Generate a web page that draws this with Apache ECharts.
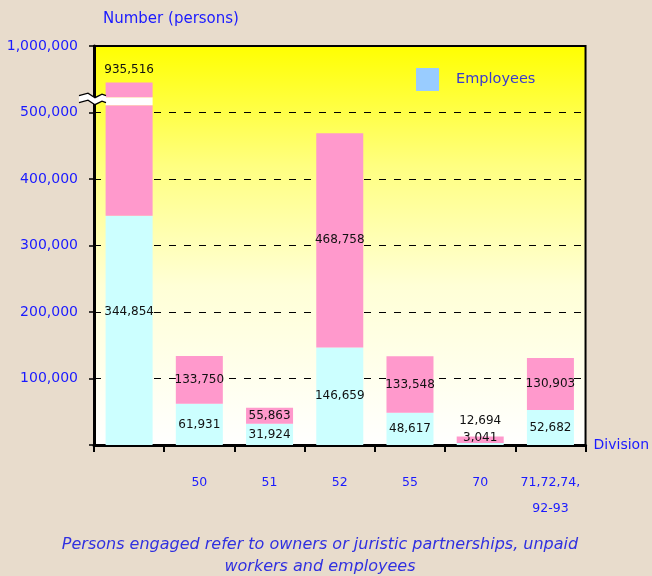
<!DOCTYPE html>
<html>
<head>
<meta charset="utf-8">
<title>Persons engaged by division</title>
<script src="https://cdn.jsdelivr.net/npm/echarts@6.0.0/dist/echarts.min.js"></script>
<style>
  html, body { margin: 0; padding: 0; background: #e8dccc; }
  #main { width: 652px; height: 576px; }
</style>
</head>
<body>
<div id="main"></div>
<script type="text/javascript">
// division codes (first bar = all divisions, no label)
var categories = ['', '50', '51', '52', '55', '70', '71,72,74,\n92-93'];
var employees  = [344854, 61931, 31924, 146659, 48617, 3041, 52682];
var personsEngaged = [935516, 133750, 55863, 468758, 133548, 12694, 130903];
var yTicks = [100000, 200000, 300000, 400000, 500000, 1000000];

var BLUE = '#1a1aff';
var FONT = 'DejaVu Sans';
var GRID_LEFT = 94;

// broken axis: 500k..900k squeezed, 900k..1M shown above the break
function toAxis(v) {
    if (v <= 500000) return v;
    if (v <= 900000) return 500000 + (v - 500000) * 0.0375;
    return 515000 + (v - 900000) * 0.85;
}
function fromAxis(a) {
    if (a <= 500000) return a;
    if (a <= 515000) return 500000 + (a - 500000) / 0.0375;
    return 900000 + (a - 515000) / 0.85;
}
function fmt(v) { return Math.round(v).toLocaleString('en-US'); }

// white band across the first bar, in axis units
var BAND = [511000, 523000];

var empData = employees.map(function (v, i) {
    var item = { value: v };
    if (i === 0) item.label = { offset: [0, -18] };
    if (i === 5) item.label = { offset: [0, -6] };
    return item;
});
var pinkLow = personsEngaged.map(function (v, i) {
    if (i === 0) return { value: BAND[0] - employees[0], label: { show: false } };
    var item = { value: v - employees[i] };
    if (i === 5) item.label = { position: 'top', distance: 10 };
    return item;
});
var gapData = personsEngaged.map(function (v, i) {
    return i === 0 ? BAND[1] - BAND[0] : '-';
});
var pinkHigh = personsEngaged.map(function (v, i) {
    return i === 0 ? toAxis(v) - BAND[1] : '-';
});

var myChart = echarts.init(document.getElementById('main'));

var labelStyle = { color: '#111', fontFamily: FONT, fontSize: 12 };

var option = {
    backgroundColor: '#e8dccc',
    animation: false,
    title: [
        {
            text: 'Number (persons)', left: 98, top: 7,
            textStyle: { color: BLUE, fontFamily: FONT, fontSize: 15, fontWeight: 'normal' }
        }
    ],
    legend: {
        left: 411, top: 63,
        itemWidth: 23, itemHeight: 23,
        icon: 'rect',
        selectedMode: false,
        data: [{ name: 'Employees', itemStyle: { color: '#99ccff' } }],
        textStyle: { color: '#3a3ad0', fontFamily: FONT, fontSize: 14.5, padding: [0, 0, 0, 12] }
    },
    grid: {
        left: GRID_LEFT, right: 66, top: 46, bottom: 131,
        show: true,
        borderColor: '#000', borderWidth: 2,
        backgroundColor: new echarts.graphic.LinearGradient(0, 0, 0, 1, [
            { offset: 0, color: '#ffff00' },
            { offset: 0.3, color: '#ffff80' },
            { offset: 0.6, color: '#ffffd6' },
            { offset: 1, color: '#ffffff' }
        ])
    },
    xAxis: {
        type: 'category',
        data: categories,
        name: 'Division',
        nameLocation: 'end',
        nameGap: 8,
        nameTextStyle: { color: BLUE, fontFamily: FONT, fontSize: 14, padding: [0, 0, 22, 0] },
        axisLine: { lineStyle: { color: '#000', width: 3 } },
        axisTick: { show: true, interval: 0, length: 7, lineStyle: { color: '#000', width: 2 } },
        axisLabel: { interval: 0, color: BLUE, fontFamily: FONT, fontSize: 12.5, margin: 25, lineHeight: 26 }
    },
    yAxis: {
        type: 'value',
        min: 0, max: 600000, interval: 100000,
        axisLine: { show: true, lineStyle: { color: '#000', width: 3 } },
        axisTick: { show: true, length: 5, lineStyle: { color: '#000', width: 1.5 } },
        axisLabel: {
            color: BLUE, fontFamily: FONT, fontSize: 14, margin: 16,
            formatter: function (a) {
                var v = fromAxis(a);
                return yTicks.indexOf(Math.round(v)) >= 0 ? fmt(v) : '';
            }
        },
        splitLine: {
            show: true, showMinLine: false, showMaxLine: false,
            lineStyle: { color: '#000', width: 1, type: [7, 8] }
        }
    },
    series: [
        {
            name: 'Employees', type: 'bar', stack: 'a',
            barWidth: 47,
            itemStyle: { color: '#ccffff' },
            label: {
                show: true, position: 'inside', ...labelStyle,
                formatter: function (p) { return fmt(employees[p.dataIndex]); }
            },
            data: empData
        },
        {
            name: 'Persons engaged', type: 'bar', stack: 'a',
            barWidth: 47,
            itemStyle: { color: '#ff99cc' },
            label: {
                show: true, position: 'inside', ...labelStyle,
                formatter: function (p) { return fmt(personsEngaged[p.dataIndex]); }
            },
            data: pinkLow
        },
        {
            name: 'break', type: 'bar', stack: 'a',
            barWidth: 47,
            itemStyle: { color: '#ffffff' },
            data: gapData
        },
        {
            name: 'Persons engaged top', type: 'bar', stack: 'a',
            barWidth: 47,
            itemStyle: { color: '#ff99cc' },
            label: {
                show: true, position: 'top', distance: 7, ...labelStyle,
                formatter: function (p) { return fmt(personsEngaged[p.dataIndex]); }
            },
            data: pinkHigh
        }
    ]
};

myChart.setOption(option);

// zigzag break mark on the y axis, and the footnote
var yTop = myChart.convertToPixel({ yAxisIndex: 0 }, BAND[1]);
var yBot = myChart.convertToPixel({ yAxisIndex: 0 }, BAND[0]);
var yMid = (yTop + yBot) / 2 - 2;
function zig(y) {
    return [[GRID_LEFT - 15, y], [GRID_LEFT - 6, y - 2.5], [GRID_LEFT + 1, y + 2], [GRID_LEFT + 8, y - 1.5], [GRID_LEFT + 12, y]];
}
var upper = zig(yMid - 3.5), lower = zig(yMid + 3.5);
myChart.setOption({
    graphic: [
        {
            type: 'polygon', z: 100,
            shape: { points: upper.concat(lower.slice().reverse()) },
            style: { fill: '#ffffff', stroke: null }
        },
        {
            type: 'polyline', z: 101,
            shape: { points: upper },
            style: { stroke: '#000', lineWidth: 1.3, fill: null }
        },
        {
            type: 'polyline', z: 101,
            shape: { points: lower },
            style: { stroke: '#000', lineWidth: 1.3, fill: null }
        },
        {
            type: 'text', x: 320, y: 534, z: 100,
            style: {
                text: 'Persons engaged refer to owners or juristic partnerships, unpaid\nworkers and employees',
                fill: '#3030e0', font: 'italic 16px "DejaVu Sans"',
                align: 'center', lineHeight: 22
            }
        }
    ]
});
</script>
</body>
</html>
